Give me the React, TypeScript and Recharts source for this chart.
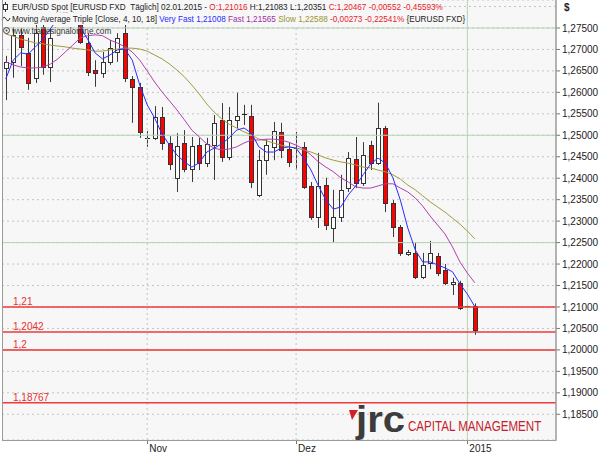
import React from 'react';
import { ComposedChart, Bar, Line, XAxis, YAxis, CartesianGrid, ReferenceLine } from 'recharts';

const dates = [
  '07.10.2014', '08.10.2014', '09.10.2014', '10.10.2014',
  '13.10.2014', '14.10.2014', '15.10.2014', '16.10.2014', '17.10.2014',
  '20.10.2014', '21.10.2014', '22.10.2014', '23.10.2014', '24.10.2014',
  '27.10.2014', '28.10.2014', '29.10.2014', '30.10.2014', '31.10.2014',
  '03.11.2014', '04.11.2014', '05.11.2014', '06.11.2014', '07.11.2014',
  '10.11.2014', '11.11.2014', '12.11.2014', '13.11.2014', '14.11.2014',
  '17.11.2014', '18.11.2014', '19.11.2014', '20.11.2014', '21.11.2014',
  '24.11.2014', '25.11.2014', '26.11.2014', '27.11.2014', '28.11.2014',
  '01.12.2014', '02.12.2014', '03.12.2014', '04.12.2014', '05.12.2014',
  '08.12.2014', '09.12.2014', '10.12.2014', '11.12.2014', '12.12.2014',
  '15.12.2014', '16.12.2014', '17.12.2014', '18.12.2014', '19.12.2014',
  '22.12.2014', '23.12.2014', '24.12.2014', '25.12.2014', '26.12.2014',
  '29.12.2014', '30.12.2014', '31.12.2014', '01.01.2015', '02.01.2015',
];
const futureDates = [
  '05.01.2015', '06.01.2015', '07.01.2015', '08.01.2015', '09.01.2015',
  '12.01.2015', '13.01.2015', '14.01.2015', '15.01.2015', '16.01.2015',
];

const opens = [
  1.2657, 1.2671, 1.2734, 1.2692, 1.2634, 1.2752, 1.2659, 1.2768, 1.2795, 1.2785,
  1.2770, 1.2715, 1.2652, 1.2645, 1.2671, 1.2694, 1.2738, 1.2631, 1.2613, 1.2494,
  1.2494, 1.2543, 1.2482, 1.2400, 1.2482, 1.2421, 1.2477, 1.2435, 1.2477, 1.2536,
  1.2449, 1.2536, 1.2547, 1.2545, 1.2361, 1.2442, 1.2473, 1.2508, 1.2468, 1.2470,
  1.2473, 1.2382, 1.2310, 1.2384, 1.2284, 1.2310, 1.2377, 1.2445, 1.2389, 1.2477,
  1.2435, 1.2517, 1.2342, 1.2286, 1.2223, 1.2226, 1.2170, 1.2202, 1.2219, 1.2186,
  1.2154, 1.2156, 1.2100, 1.21016,
];
const highs = [
  1.2685, 1.2752, 1.2750, 1.2727, 1.2757, 1.2773, 1.2750, 1.2805, 1.2812, 1.2800,
  1.2785, 1.2738, 1.2675, 1.2694, 1.2722, 1.2738, 1.2757, 1.2638, 1.2622, 1.2510,
  1.2568, 1.2566, 1.2498, 1.2505, 1.2512, 1.2496, 1.2494, 1.2494, 1.2547, 1.2575,
  1.2566, 1.2599, 1.2571, 1.2571, 1.2466, 1.2491, 1.2531, 1.2529, 1.2484, 1.2508,
  1.2484, 1.2391, 1.2459, 1.2401, 1.2373, 1.2408, 1.2461, 1.2496, 1.2484, 1.2487,
  1.2576, 1.2522, 1.2349, 1.2291, 1.2233, 1.2249, 1.2226, 1.2254, 1.2226, 1.2200,
  1.2168, 1.2161, 1.2106, 1.21083,
];
const lows = [
  1.2582, 1.2634, 1.2661, 1.2606, 1.2622, 1.2641, 1.2624, 1.2760, 1.2772, 1.2762,
  1.2713, 1.2638, 1.2613, 1.2634, 1.2664, 1.2671, 1.2624, 1.2529, 1.2494, 1.2473,
  1.2489, 1.2466, 1.2419, 1.2368, 1.2414, 1.2391, 1.2419, 1.2426, 1.2396, 1.2438,
  1.2442, 1.2517, 1.2524, 1.2377, 1.2356, 1.2408, 1.2442, 1.2447, 1.2426, 1.2419,
  1.2375, 1.2303, 1.2284, 1.2279, 1.2251, 1.2298, 1.2368, 1.2377, 1.2382, 1.2419,
  1.2431, 1.2321, 1.2263, 1.2219, 1.2219, 1.2165, 1.2165, 1.2188, 1.2172, 1.2151,
  1.2128, 1.2093, 1.2095, 1.20351,
];
const closes = [
  1.2671, 1.2734, 1.2706, 1.2622, 1.2738, 1.2659, 1.2727, 1.2795, 1.2785, 1.2775,
  1.2717, 1.2647, 1.2645, 1.2671, 1.2703, 1.2727, 1.2634, 1.2613, 1.2508, 1.2492,
  1.2543, 1.2482, 1.2433, 1.2475, 1.2421, 1.2475, 1.2435, 1.2480, 1.2529, 1.2449,
  1.2536, 1.2545, 1.2549, 1.2391, 1.2442, 1.2477, 1.2510, 1.2466, 1.2438, 1.2471,
  1.2380, 1.2310, 1.2382, 1.2291, 1.2310, 1.2373, 1.2447, 1.2389, 1.2454, 1.2435,
  1.2517, 1.2342, 1.2286, 1.2226, 1.2228, 1.2170, 1.2198, 1.2226, 1.2179, 1.2156,
  1.2158, 1.2098, 1.21019, 1.20467,
];

// Moving Average Triple [Close, 4, 10, 18]
const veryFast = [
  1.2631, 1.2675, 1.2692, 1.2689, 1.2706, 1.2724, 1.2748, 1.2772, 1.2785, 1.2780,
  1.2752, 1.2724, 1.2692, 1.2678, 1.2687, 1.2699, 1.2701, 1.2675, 1.2617, 1.2571,
  1.2540, 1.2503, 1.2477, 1.2454, 1.2438, 1.2426, 1.2436, 1.2461, 1.2470, 1.2480,
  1.2494, 1.2512, 1.2517, 1.2505, 1.2473, 1.2461, 1.2461, 1.2470, 1.2473, 1.2470,
  1.2447, 1.2419, 1.2382, 1.2349, 1.2328, 1.2333, 1.2361, 1.2382, 1.2408, 1.2433,
  1.2447, 1.2435, 1.2401, 1.2349, 1.2284, 1.2233, 1.2205, 1.2205, 1.2198, 1.2191,
  1.2182, 1.2154, 1.2130, 1.21008,
];
const fast = [
  1.2671, 1.2664, 1.2659, 1.2657, 1.2657, 1.2659, 1.2666, 1.2678, 1.2694, 1.2710,
  1.2727, 1.2732, 1.2734, 1.2732, 1.2722, 1.2715, 1.2706, 1.2694, 1.2675, 1.2650,
  1.2624, 1.2601, 1.2580, 1.2559, 1.2536, 1.2512, 1.2496, 1.2480, 1.2470, 1.2466,
  1.2468, 1.2473, 1.2482, 1.2489, 1.2489, 1.2491, 1.2491, 1.2489, 1.2484, 1.2477,
  1.2468, 1.2454, 1.2438, 1.2426, 1.2415, 1.2401, 1.2391, 1.2380, 1.2377, 1.2377,
  1.2382, 1.2387, 1.2387, 1.2377, 1.2368, 1.2354, 1.2335, 1.2312, 1.2291, 1.2270,
  1.2240, 1.2205, 1.2179, 1.21565,
];
const slow = [
  1.2736, 1.2731, 1.2724, 1.2720, 1.2715, 1.2713, 1.2710, 1.2708, 1.2706, 1.2703,
  1.2701, 1.2699, 1.2696, 1.2696, 1.2699, 1.2701, 1.2703, 1.2703, 1.2701, 1.2696,
  1.2687, 1.2678, 1.2666, 1.2652, 1.2636, 1.2617, 1.2596, 1.2573, 1.2554, 1.2538,
  1.2526, 1.2517, 1.2508, 1.2501, 1.2491, 1.2487, 1.2482, 1.2477, 1.2473, 1.2470,
  1.2466, 1.2461, 1.2454, 1.2447, 1.2442, 1.2438, 1.2435, 1.2431, 1.2426, 1.2424,
  1.2419, 1.2415, 1.2408, 1.2398, 1.2384, 1.2373, 1.2359, 1.2345, 1.2333, 1.2321,
  1.2307, 1.2293, 1.2277, 1.22588,
];

const yTicks = [
  1.185, 1.19, 1.195, 1.2, 1.205, 1.21, 1.215, 1.22, 1.225, 1.23,
  1.235, 1.24, 1.245, 1.25, 1.255, 1.26, 1.265, 1.27, 1.275,
];
const tickDates = ['03.11.2014', '01.12.2014', '01.01.2015'];
const tickLabels = ['Nov', 'Dez', '2015'];
const levelValues = [1.21, 1.2042, 1.2, 1.18767];
const levelLabels = ['1,21', '1,2042', '1,2', '1,18767'];
const greenLevels = [1.275, 1.25, 1.225, 1.2];
const dottedExtra = [1.28];

// legend segments: [text, colour key]
const legendLine1 = [
  ['EUR/USD Spot [EURUSD FXD  Täglich] 02.01.2015 - ', 'dark'],
  ['O:1,21016', 'red'],
  [' H:1,21083 L:1,20351 ', 'dark'],
  ['C:1,20467 -0,00552 -0,45593%', 'red'],
];
const legendLine2 = [
  ['Moving Average Triple [Close, 4, 10, 18] ', 'dark'],
  ['Very Fast 1,21008 ', 'blue'],
  ['Fast 1,21565 ', 'purple'],
  ['Slow 1,22588 ', 'olive'],
  ['-0,00273 -0,22541% ', 'red'],
  ['{EURUSD FXD}', 'dark'],
];

const rows = [...dates, ...futureDates].map((d, i) =>
  i < dates.length
    ? {
        date: d,
        range: [lows[i], highs[i]],
        open: opens[i],
        high: highs[i],
        low: lows[i],
        close: closes[i],
        vf: veryFast[i],
        fast: fast[i],
        slow: slow[i],
      }
    : { date: d, range: null, open: null, high: null, low: null, close: null, vf: null, fast: null, slow: null }
);

const FONT = 'Liberation Sans, Arial, sans-serif';
const BG = '#f7f7f7';
const GRID = '#c4c4c4';
const GREEN = '#b6d3b6';
const RED_LINE = '#f03a3a';
const COLORS: Record<string, string> = {
  dark: '#222222',
  red: '#e8202a',
  blue: '#2b2bff',
  purple: '#a030a0',
  olive: '#9a9330',
};

const Candle = (props: any) => {
  const { x, y, width, height, payload } = props;
  if (!payload || payload.high == null || !isFinite(y) || !isFinite(height)) return null;
  const { open, close, high, low } = payload;
  const yTop = Math.min(y, y + height);
  const yBot = Math.max(y, y + height);
  const span = high - low;
  const toY = (v: number) => yTop + ((high - v) / span) * (yBot - yTop);
  const c = Math.round(x + width / 2);
  const yO = toY(open);
  const yC = toY(close);
  const top = Math.min(yO, yC);
  const bot = Math.max(yO, yC);
  const up = close >= open;
  return (
    <g>
      <line x1={c + 0.5} x2={c + 0.5} y1={yTop} y2={yBot} stroke="#3a3a3a" strokeWidth={1} />
      {bot - top < 1 ? (
        <line x1={c - 2} x2={c + 3} y1={Math.round(top) + 0.5} y2={Math.round(top) + 0.5} stroke="#222" strokeWidth={1} />
      ) : (
        <rect
          x={c - 1.5}
          y={Math.round(top) + 0.5}
          width={4}
          height={Math.max(1, Math.round(bot) - Math.round(top))}
          fill={up ? '#ffffff' : '#ff0000'}
          stroke="#333"
          strokeWidth={1}
        />
      )}
    </g>
  );
};

const XTick = (props: any) => {
  const { x, y, payload } = props;
  const idx = tickDates.indexOf(payload.value);
  const px = Math.round(x) + 0.5;
  return (
    <g>
      <line x1={px} x2={px} y1={y + 1} y2={y + 4} stroke="#777" strokeWidth={1} />
      <text x={x + 2} y={y + 12} fontSize={10} fontFamily={FONT} fill="#222" textAnchor="start">
        {idx >= 0 ? tickLabels[idx] : ''}
      </text>
    </g>
  );
};

const fmtY = (v: number) => v.toFixed(5).replace('.', ',');

const LevelLabel = (text: string) => (p: any) => {
  const vb = p.viewBox || {};
  return (
    <text x={(vb.x ?? 0) + 11} y={(vb.y ?? 0) - 2} fontSize={10} fontFamily={FONT} fill="#e8302f">
      {text}
    </text>
  );
};

const LegendLine = ({ segs, y }: { segs: string[][]; y: number }) => (
  <text x={12} y={y} fontSize={8.2} fontFamily={FONT} style={{ whiteSpace: 'pre' }}>
    {segs.map(([t, c], i) => (
      <tspan key={i} fill={COLORS[c]}>
        {t}
      </tspan>
    ))}
  </text>
);

export default function App() {
  return (
    <div style={{ position: 'absolute', left: 0, top: 0, width: 605, height: 454, background: '#fff' }}>
      <ComposedChart
        width={605}
        height={454}
        data={rows}
        margin={{ top: 0, right: 0, bottom: 0, left: 2 }}
      >
        <CartesianGrid vertical={false} stroke={GRID} strokeDasharray="2 3" fill={BG} fillOpacity={1} />
        <XAxis
          dataKey="date"
          ticks={tickDates}
          interval={0}
          tick={<XTick />}
          tickLine={false}
          axisLine={false}
          tickSize={0}
          tickMargin={0}
          height={14}
          padding={{ left: 0, right: 3 }}
        />
        <YAxis
          orientation="right"
          domain={[1.17901, 1.28152]}
          allowDataOverflow
          ticks={yTicks}
          interval={0}
          tickFormatter={fmtY}
          width={49}
          tickSize={4}
          tickMargin={2}
          axisLine={{ stroke: '#9a9a9a' }}
          tickLine={{ stroke: '#777' }}
          tick={{ fontSize: 10, fill: '#222', fontFamily: FONT }}
        />
        {dottedExtra.map((v) => (
          <ReferenceLine key={'d' + v} y={v} stroke={GRID} strokeDasharray="2 3" />
        ))}
        {greenLevels.map((v) => (
          <ReferenceLine key={'g' + v} y={v} stroke={GREEN} strokeWidth={1} />
        ))}
        <ReferenceLine x={tickDates[0]} stroke={GRID} strokeDasharray="2 3" />
        <ReferenceLine x={tickDates[1]} stroke={GRID} strokeDasharray="2 3" />
        <ReferenceLine x={tickDates[2]} stroke={GREEN} strokeWidth={1} />
        {levelValues.map((v, i) => (
          <ReferenceLine key={'r' + v} y={v} stroke={RED_LINE} strokeWidth={1.5} label={LevelLabel(levelLabels[i])} />
        ))}
        <Bar dataKey="range" shape={<Candle />} isAnimationActive={false} />
        <Line dataKey="slow" stroke="#a29b3c" strokeWidth={1} dot={false} activeDot={false} isAnimationActive={false} />
        <Line dataKey="fast" stroke="#b040b0" strokeWidth={1} dot={false} activeDot={false} isAnimationActive={false} />
        <Line dataKey="vf" stroke="#2b2bff" strokeWidth={1} dot={false} activeDot={false} isAnimationActive={false} />
      </ComposedChart>
      <svg
        width={605}
        height={454}
        style={{ position: 'absolute', left: 0, top: 0, pointerEvents: 'none' }}
      >
        {/* legend backgrounds */}
        <rect x={0} y={0} width={432} height={12.5} fill={BG} />
        <rect x={0} y={12.5} width={464} height={12.5} fill={BG} />
        {/* legend icons */}
        <line x1={5.5} x2={5.5} y1={2} y2={12} stroke="#333" />
        <rect x={3.5} y={4.5} width={4} height={5} fill="#fff" stroke="#333" />
        <path d="M2 20 Q4 15 6 19 T10 18" fill="none" stroke="#333" strokeWidth={1} />
        <circle cx={6.5} cy={30.5} r={3} fill="none" stroke="#444" />
        <circle cx={6.5} cy={30.5} r={1} fill="#444" />
        <LegendLine segs={legendLine1} y={10} />
        <LegendLine segs={legendLine2} y={22} />
        <text x={12} y={34} fontSize={8.2} fontFamily={FONT} fill="#333">
          www.tradesignalonline.com
        </text>
        {/* frame */}
        <rect x={2.5} y={-1} width={553.5} height={441.5} fill="none" stroke="#9a9a9a" />
        {/* currency */}
        <text x={564} y={11} fontSize={10} fontWeight="bold" fontFamily={FONT} fill="#222">$</text>
        {/* logo */}
        <polygon points="349,410 358,410 352,420" fill="#d41f2a" />
        <text x={356} y={432} fontSize={37} fontWeight="bold" fontFamily={FONT} fill="#3c3c3c" textLength={49} lengthAdjust="spacingAndGlyphs">
          jrc
        </text>
        <text
          transform="translate(408,431) scale(1,1.3)"
          x={0}
          y={0}
          fontSize={11.6}
          fontFamily={FONT}
          fill="#c41d2c"
        >
          CAPITAL MANAGEMENT
        </text>
      </svg>
    </div>
  );
}
